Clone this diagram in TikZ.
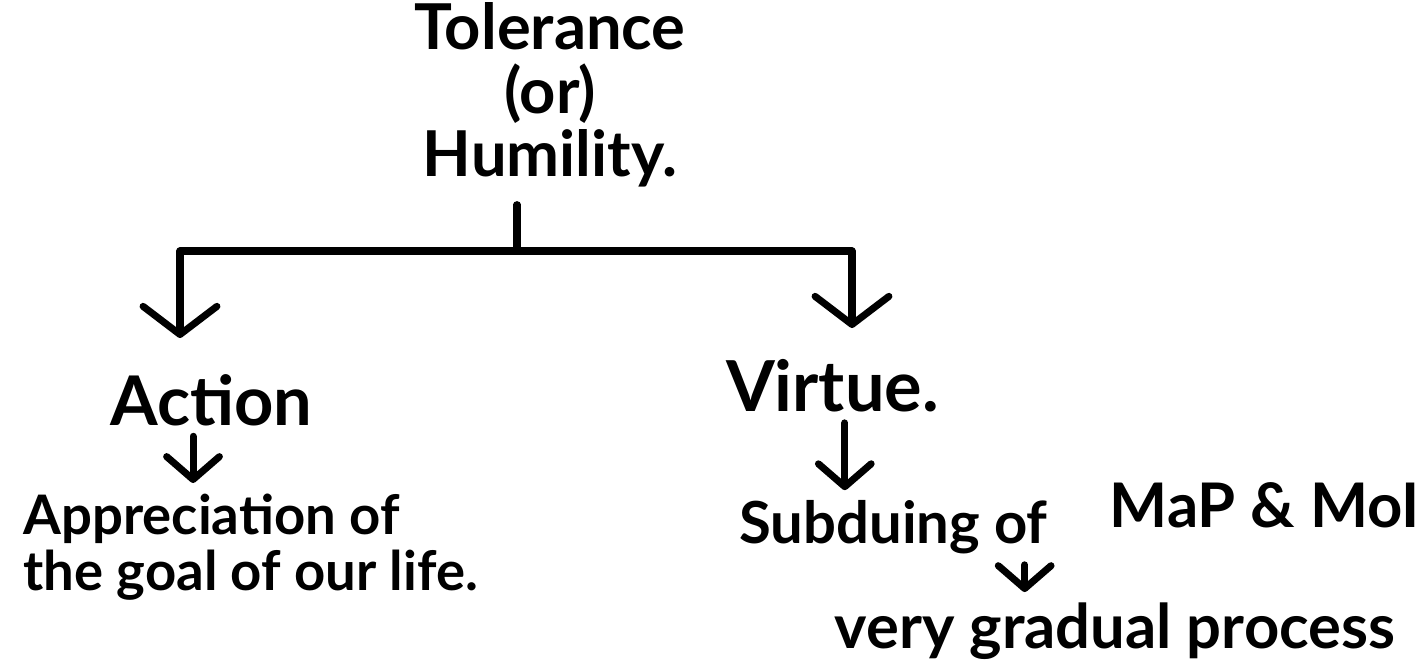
\documentclass[tikz,border=0pt]{standalone}
\usepackage{fontspec}
\setmainfont{Lato}
\usepackage{tikz}
\usetikzlibrary{arrows}
\usetikzlibrary{positioning, arrows.meta, calc}

\begin{document}
\begin{tikzpicture}[>={Straight Barb[length=13pt, width=30pt, round]}, line width=4pt, line cap=round, line join=round,
  hand/.style={inner sep=4pt, font=\fontsize{#1}{#1}\selectfont\bfseries},
  branch/.style={-{Straight Barb[length=16pt, width=42pt, round]}}]
  \useasboundingbox (0, 0) rectangle (28.38, -13.22);
  % top of the tree
  \node[align=center, inner sep=4pt, font=\fontsize{36}{36}\selectfont\bfseries] (title) at (11.0, -1.9) {Tolerance\\(or)\\Humility.};
  \coordinate (junction) at (10.34, -5.02);
  \coordinate (lefttip) at (3.6, -6.76);
  \coordinate (righttip) at (17.04, -6.56);
  \draw[shorten <=4pt] (title.south -| junction) -- (junction);
  \draw[branch] (junction) -| (lefttip);
  \draw[branch] (junction) -| (righttip);
  % left branch
  \node[hand=39] (action) at (4.23, -8.0) {Action};
  \node[hand=31, align=left, anchor=north west, font=\fontsize{31}{32}\selectfont\bfseries] (appreciation) at (0.26, -9.66) {Appreciation of\\the goal of our life.};
  \draw[->] ([xshift=-10.5pt]action.south) -- ([xshift=-10.5pt]action.south |- appreciation.north);
  % right branch
  \node[hand=40] (virtue) at (16.65, -7.72) {Virtue.};
  \node[hand=33] (subduing) at (17.87, -10.55) {Subduing of};
  \node[hand=35] (map) at (25.3, -10.1) {MaP \& MoI};
  \node[hand=35] (gradual) at (22.3, -12.62) {very gradual process};
  \draw[->] ([xshift=7pt]virtue.south) -- ([xshift=7pt]virtue.south |- subduing.north);
  \draw[->] ([xshift=-19pt]subduing.south east) -- ([xshift=-19pt]subduing.south east |- gradual.north);
\end{tikzpicture}
\end{document}
